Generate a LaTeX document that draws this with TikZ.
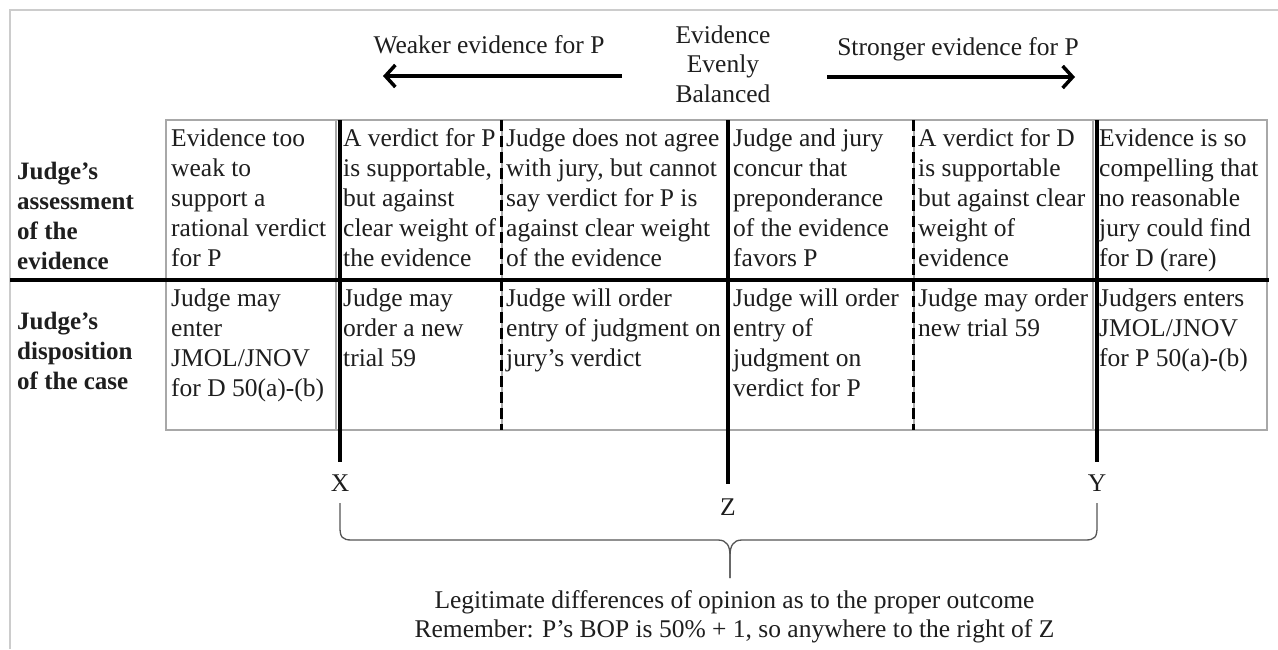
\documentclass[tikz,border=0pt]{standalone}
\usepackage{fontspec}
\setmainfont{Liberation Serif}
\usetikzlibrary{arrows.meta}
\definecolor{ink}{HTML}{1E1E1E}
\definecolor{cellgray}{HTML}{A8A8A8}
\definecolor{framegray}{HTML}{CCCCCC}
\definecolor{bracegray}{HTML}{555555}
\begin{document}
\begin{tikzpicture}[x=1pt,y=-1pt,
  txt/.style={font=\fontsize{25.5}{30}\selectfont, inner sep=0pt, align=left, anchor=base west, text=ink},
  ctxt/.style={font=\fontsize{25.5}{29.5}\selectfont, inner sep=0pt, align=center, anchor=base, text=ink},
  lbl/.style={font=\fontsize{25}{30}\selectfont\bfseries, inner sep=0pt, align=left, anchor=base west, text=ink},
  cellrule/.style={draw=cellgray, line width=1.4pt},
  solidrule/.style={draw=black, line width=3.6pt},
  dashrule/.style={draw=black, line width=3pt, dash pattern=on 11pt off 5pt},
  dirarrow/.style={draw=black, line width=3.8pt, -{Straight Barb[length=10pt,width=22pt,line width=3.5pt]}},
  bracepath/.style={draw=bracegray, line width=1.3pt}]
\useasboundingbox (0,0) rectangle (1278,649);
\fill[white] (0,0) rectangle (1278,649);
% faint frame
\draw[framegray, line width=1.5pt] (10,649) -- (10,10) -- (1278,10);

% top labels and arrows (base anchor = baseline of last line)
\node[ctxt] (weak) at (489,53) {Weaker evidence for P};
\node[ctxt] (even) at (723,102) {Evidence\\Evenly\\Balanced};
\node[ctxt] (strong) at (958,55) {Stronger evidence for P};
\coordinate (wa1) at (622,76);
\coordinate (wa2) at (383,76);
\coordinate (sa1) at (827,77);
\coordinate (sa2) at (1075,77);
\draw[dirarrow] (wa1) -- (wa2);
\draw[dirarrow] (sa1) -- (sa2);

% table gray cell lines
\draw[cellrule] (166,120) rectangle (1267,430);
\foreach \xx in {336,502,729,914,1093} \draw[cellrule] (\xx,120) -- (\xx,430);

% thick horizontal rule
\coordinate (hl) at (10,280);
\coordinate (hr) at (1269,280);
\draw[solidrule] (hl) -- (hr);

% dashed rules
\coordinate (d1t) at (501,120); \coordinate (d1b) at (501,430);
\coordinate (d2t) at (913,120); \coordinate (d2b) at (913,430);
\draw[dashrule] (d1t) -- (d1b);
\draw[dashrule] (d2t) -- (d2b);

% solid rules and X Y Z
\node[ctxt, anchor=center] (X) at (340,483) {X};
\node[ctxt, anchor=center] (Z) at (728,507) {Z};
\node[ctxt, anchor=center] (Y) at (1097,483) {Y};
\coordinate (xt) at (340,120); \coordinate (xb) at (340,462);
\coordinate (zt) at (728,120); \coordinate (zb) at (728,484);
\coordinate (yt) at (1097,120); \coordinate (yb) at (1097,462);
\draw[solidrule] (xt) -- (xb);
\draw[solidrule] (zt) -- (zb);
\draw[solidrule] (yt) -- (yb);

% row labels
\node[lbl] (lab1) at (17,269) {Judge’s\\assessment\\of the\\evidence};
\node[lbl] (lab2) at (17,389) {Judge’s\\disposition\\of the case};

% row 1 cells (5 lines, first baseline 146)
\node[txt] (a1) at (171,266) {Evidence too\\weak to\\support a\\rational verdict\\for P};
\node[txt] (a2) at (343,266) {A verdict for P\\is supportable,\\but against\\clear weight of\\the evidence};
\node[txt] (a3) at (506,266) {Judge does not agree\\with jury, but cannot\\say verdict for P is\\against clear weight\\of the evidence};
\node[txt] (a4) at (733,266) {Judge and jury\\concur that\\preponderance\\of the evidence\\favors P};
\node[txt] (a5) at (918,266) {A verdict for D\\is supportable\\but against clear\\weight of\\evidence};
\node[txt] (a6) at (1099,266) {Evidence is so\\compelling that\\no reasonable\\jury could find\\for D (rare)};

% row 2 cells (first baseline 306)
\node[txt] (b1) at (171,396) {Judge may\\enter\\JMOL/JNOV\\for D 50(a)-(b)};
\node[txt] (b2) at (343,366) {Judge may\\order a new\\trial 59};
\node[txt] (b3) at (506,366) {Judge will order\\entry of judgment on\\jury{\char"0027}s verdict};
\node[txt] (b4) at (733,396) {Judge will order\\entry of\\judgment on\\verdict for P};
\node[txt] (b5) at (918,336) {Judge may order\\new trial 59};
\node[txt] (b6) at (1099,366) {Judgers enters\\JMOL/JNOV\\for P 50(a)-(b)};

% brace
\coordinate (bl) at (340,503);
\coordinate (br) at (1097,503);
\coordinate (tip) at (730,578);
\draw[bracepath] (bl) -- (340,527) .. controls (340,537) and (342,540) .. (352,540)
  -- (718,540) .. controls (727,540) and (730,546) .. (730,556) -- (tip);
\draw[bracepath] (tip) -- (730,556) .. controls (730,546) and (733,540) .. (742,540)
  -- (1085,540) .. controls (1095,540) and (1097,537) .. (1097,527) -- (br);

% bottom text
\node[ctxt] (note) at (734.5,637.5) {Legitimate differences of opinion as to the proper outcome\\Remember: P’s BOP is 50\% + 1, so anywhere to the right of Z};
\end{tikzpicture}
\end{document}
